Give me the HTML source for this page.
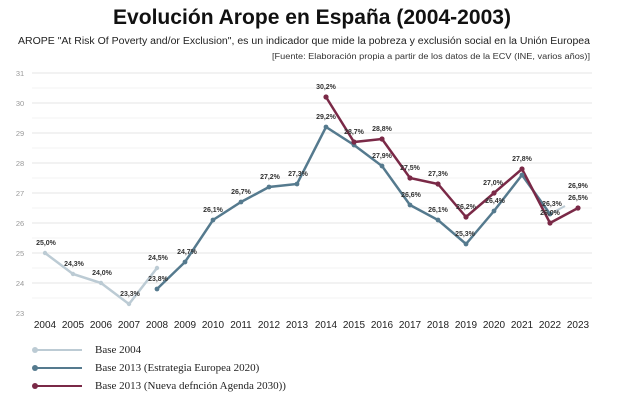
<!DOCTYPE html>
<html><head><meta charset="utf-8"><style>
html,body{margin:0;padding:0;background:#fff;width:622px;height:400px;overflow:hidden}
svg{display:block}
.lb{font:bold 7px "Liberation Sans",sans-serif;fill:#333}
</style></head><body>
<svg width="622" height="400" xmlns="http://www.w3.org/2000/svg">
<text x="312" y="24" text-anchor="middle" font-family="Liberation Sans, sans-serif" font-weight="bold" font-size="21" fill="#111" textLength="398" lengthAdjust="spacingAndGlyphs">Evolución Arope en España (2004-2003)</text>
<text x="18" y="44" font-family="Liberation Sans, sans-serif" font-size="10" fill="#222" textLength="572" lengthAdjust="spacingAndGlyphs">AROPE "At Risk Of Poverty and/or Exclusion", es un indicador que mide la pobreza y exclusión social en la Unión Europea</text>
<text x="272" y="59" font-family="Liberation Sans, sans-serif" font-size="8.6" fill="#333" textLength="318" lengthAdjust="spacingAndGlyphs">[Fuente: Elaboración propia a partir de los datos de la ECV (INE, varios años)]</text>
<g stroke="#e6e6e6" stroke-width="1">
<line x1="32" x2="592" y1="73" y2="73"/><line x1="32" x2="592" y1="103" y2="103"/><line x1="32" x2="592" y1="133" y2="133"/><line x1="32" x2="592" y1="163" y2="163"/><line x1="32" x2="592" y1="193" y2="193"/><line x1="32" x2="592" y1="223" y2="223"/><line x1="32" x2="592" y1="253" y2="253"/><line x1="32" x2="592" y1="283" y2="283"/>
</g>
<g stroke="#f3f3f3" stroke-width="1">
<line x1="32" x2="592" y1="88" y2="88"/><line x1="32" x2="592" y1="118" y2="118"/><line x1="32" x2="592" y1="148" y2="148"/><line x1="32" x2="592" y1="178" y2="178"/><line x1="32" x2="592" y1="208" y2="208"/><line x1="32" x2="592" y1="238" y2="238"/><line x1="32" x2="592" y1="268" y2="268"/><line x1="32" x2="592" y1="298" y2="298"/>
</g>
<g font-family="Liberation Sans, sans-serif" font-size="7.5" fill="#999" text-anchor="middle">
<text x="20" y="76">31</text><text x="20" y="106">30</text><text x="20" y="136">29</text><text x="20" y="166">28</text><text x="20" y="196">27</text><text x="20" y="226">26</text><text x="20" y="256">25</text><text x="20" y="286">24</text><text x="20" y="316">23</text>
</g>
<g font-family="Liberation Sans, sans-serif" font-size="10" fill="#222" text-anchor="middle">
<text x="45" y="328">2004</text><text x="73" y="328">2005</text><text x="101" y="328">2006</text><text x="129" y="328">2007</text><text x="157" y="328">2008</text><text x="185" y="328">2009</text><text x="213" y="328">2010</text><text x="241" y="328">2011</text><text x="269" y="328">2012</text><text x="297" y="328">2013</text><text x="326" y="328">2014</text><text x="354" y="328">2015</text><text x="382" y="328">2016</text><text x="410" y="328">2017</text><text x="438" y="328">2018</text><text x="466" y="328">2019</text><text x="494" y="328">2020</text><text x="522" y="328">2021</text><text x="550" y="328">2022</text><text x="578" y="328">2023</text>
</g>
<polyline fill="none" stroke="#bccbd4" stroke-width="2.5" points="45,253 73,274 101,283 129,304 157,268"/>
<polyline fill="none" stroke="#557a8e" stroke-width="2.5" points="157,289 185,262 213,220 241,202 269,187 297,184 326,127 354,145 382,166 410,205 438,220 466,244 494,211 522,175 550,214"/>
<polyline fill="none" stroke="#bccbd4" stroke-width="2" points="550,214 565,206"/>
<polyline fill="none" stroke="#7a2947" stroke-width="2.5" points="326,97 354,142 382,139 410,178 438,184 466,217 494,193 522,169 550,223 578,208"/>
<g fill="#bccbd4"><circle cx="45" cy="253" r="2.2"/><circle cx="73" cy="274" r="2.2"/><circle cx="101" cy="283" r="2.2"/><circle cx="129" cy="304" r="2.2"/><circle cx="157" cy="268" r="2.2"/></g>
<g fill="#557a8e"><circle cx="157" cy="289" r="2.4"/><circle cx="185" cy="262" r="2.4"/><circle cx="213" cy="220" r="2.4"/><circle cx="241" cy="202" r="2.4"/><circle cx="269" cy="187" r="2.4"/><circle cx="297" cy="184" r="2.4"/><circle cx="326" cy="127" r="2.4"/><circle cx="354" cy="145" r="2.4"/><circle cx="382" cy="166" r="2.4"/><circle cx="410" cy="205" r="2.4"/><circle cx="438" cy="220" r="2.4"/><circle cx="466" cy="244" r="2.4"/><circle cx="494" cy="211" r="2.4"/><circle cx="522" cy="175" r="2.4"/><circle cx="550" cy="214" r="2.4"/></g>
<g fill="#7a2947"><circle cx="326" cy="97" r="2.6"/><circle cx="354" cy="142" r="2.6"/><circle cx="382" cy="139" r="2.6"/><circle cx="410" cy="178" r="2.6"/><circle cx="438" cy="184" r="2.6"/><circle cx="466" cy="217" r="2.6"/><circle cx="494" cy="193" r="2.6"/><circle cx="522" cy="169" r="2.6"/><circle cx="550" cy="223" r="2.6"/><circle cx="578" cy="208" r="2.6"/></g>
<g class="lb" text-anchor="middle">
<text x="46" y="245">25,0%</text><text x="74" y="266">24,3%</text><text x="102" y="275">24,0%</text><text x="130" y="296">23,3%</text><text x="158" y="260">24,5%</text><text x="158" y="281">23,8%</text><text x="187" y="254">24,7%</text><text x="213" y="212">26,1%</text><text x="241" y="194">26,7%</text><text x="270" y="179">27,2%</text><text x="298" y="176">27,3%</text>
<text x="326" y="119">29,2%</text><text x="326" y="89">30,2%</text><text x="354" y="134">28,7%</text><text x="382" y="131">28,8%</text><text x="382" y="158">27,9%</text><text x="410" y="170">27,5%</text><text x="411" y="197">26,6%</text><text x="438" y="176">27,3%</text><text x="438" y="212">26,1%</text><text x="466" y="209">26,2%</text><text x="465" y="236">25,3%</text><text x="493" y="185">27,0%</text><text x="495" y="203">26,4%</text><text x="522" y="161">27,8%</text><text x="552" y="206">26,3%</text><text x="550" y="215">26,0%</text><text x="578" y="188">26,9%</text><text x="578" y="200">26,5%</text>
</g>
<g stroke-width="2"><line x1="33" x2="82" y1="350" y2="350" stroke="#bccbd4"/><line x1="33" x2="82" y1="368" y2="368" stroke="#557a8e"/><line x1="33" x2="82" y1="386" y2="386" stroke="#7a2947"/></g>
<circle cx="35" cy="350" r="3" fill="#bccbd4"/><circle cx="35" cy="368" r="3" fill="#557a8e"/><circle cx="35" cy="386" r="3" fill="#7a2947"/>
<g font-family="Liberation Serif, serif" font-size="11" fill="#222">
<text x="95" y="353">Base 2004</text><text x="95" y="371">Base 2013 (Estrategia Europea 2020)</text><text x="95" y="389">Base 2013 (Nueva defnción Agenda 2030))</text>
</g>
</svg>
</body></html>
